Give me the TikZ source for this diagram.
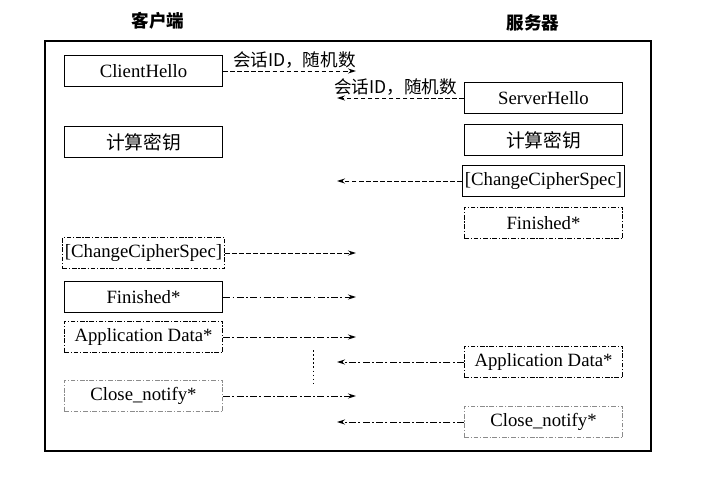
\documentclass[tikz,border=0pt]{standalone}
\usepackage{fontspec}
\setmainfont{Liberation Serif}
\newfontfamily\cjk{Noto Sans CJK SC}
\usetikzlibrary{arrows.meta,positioning}
\tikzset{
  >={Stealth[length=2.4mm,width=1.5mm]},
  every picture/.append style={font=\fontsize{16}{19}\selectfont},
  solidbox/.style={rectangle,draw=black,line width=1.1pt,minimum width=4.75cm,minimum height=0.95cm,inner sep=2pt,align=center},
  dotbox/.style={solidbox,line width=0.7pt,dash pattern=on 4pt off 1.5pt on 1pt off 1.5pt},
  fadebox/.style={dotbox,draw=black!45},
  msgarrow/.style={->,line width=0.8pt,dash pattern=on 4pt off 2pt},
  msgarrowdd/.style={->,line width=0.8pt,dash pattern=on 6pt off 2pt on 1.5pt off 2pt},
  msglabel/.style={font=\cjk\fontsize{15}{18}\selectfont,inner sep=1pt,above=1pt},
  sidetitle/.style={font=\cjk\bfseries\fontsize{15}{18}\selectfont},
}
\begin{document}
\begin{tikzpicture}[x=0.03cm,y=-0.03cm]
  \useasboundingbox (0,0) rectangle (710,476);
  \node[sidetitle] (clientTitle) at (158,21) {客户端};
  \node[sidetitle] (serverTitle) at (533,23) {服务器};

  \draw[line width=1.2pt] (45,41) rectangle (651,451);

  % client side
  \node[solidbox] (chello)   at (143.5,71)  {ClientHello};
  \node[solidbox] (ckey)     at (143.5,142) {\cjk 计算密钥};
  \node[dotbox]   (cccs)     at (143.5,253) {[ChangeCipherSpec]};
  \node[solidbox] (cfin)     at (143.5,297) {Finished*};
  \node[dotbox]   (cdata)    at (143.5,337) {Application Data*};
  \node[fadebox]  (cclose)   at (143.5,396) {Close\_notify*};

  % server side
  \node[solidbox] (shello)   at (543.5,98)  {ServerHello};
  \node[solidbox] (skey)     at (543.5,140) {\cjk 计算密钥};
  \node[solidbox] (sccs)     at (543.5,181) {[ChangeCipherSpec]};
  \node[dotbox]   (sfin)     at (543.5,223) {Finished*};
  \node[dotbox]   (sdata)    at (543.5,362) {Application Data*};
  \node[fadebox]  (sclose)   at (543.5,422) {Close\_notify*};

  \coordinate (rtip) at (356,0);
  \coordinate (ltip) at (337,0);
  \coordinate (vdotTop) at (313,350);
  \coordinate (vdotBot) at (313,383);

  \draw[msgarrow]   (chello.east) -- node[msglabel,xshift=4pt]{会话ID，随机数} (chello.east -| rtip);
  \draw[msgarrow]   (shello.west) -- node[msglabel,xshift=-4pt]{会话ID，随机数} (shello.west -| ltip);
  \draw[msgarrow]   (sccs.west)   -- (sccs.west -| ltip);
  \draw[msgarrow]   (cccs.east)   -- (cccs.east -| rtip);
  \draw[msgarrowdd] (cfin.east)   -- (cfin.east -| rtip);
  \draw[msgarrowdd] (cdata.east)  -- (cdata.east -| rtip);
  \draw[line width=0.8pt,dash pattern=on 1.5pt off 2pt] (vdotTop) -- (vdotBot);
  \draw[msgarrowdd] (sdata.west)  -- (sdata.west -| ltip);
  \draw[msgarrowdd] (cclose.east) -- (cclose.east -| rtip);
  \draw[msgarrowdd] (sclose.west) -- (sclose.west -| ltip);
\end{tikzpicture}
\end{document}
